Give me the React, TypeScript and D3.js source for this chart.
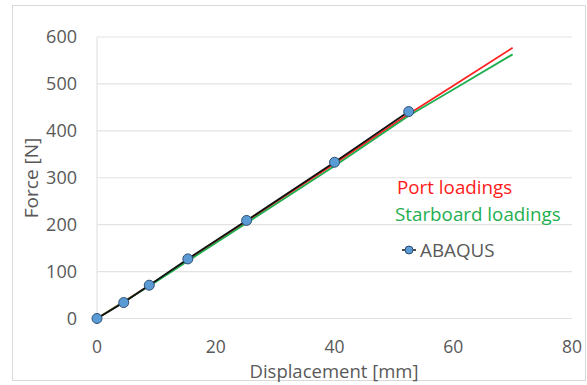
import React from "react";
import * as d3 from "d3";

const xTicks = [0, 20, 40, 60, 80];
const yTicks = [0, 100, 200, 300, 400, 500, 600];

const portX = [0, 10, 20, 30, 40, 52.5, 60, 70];
const portY = [0, 80, 163, 247, 330, 436, 496, 577];
const starX = [0, 10, 20, 30, 40, 52.5, 60, 70];
const starY = [0, 79, 161, 243, 325, 432, 488, 563];
const abaqusX = [0, 4.5, 8.8, 15.3, 25.2, 40, 52.5];
const abaqusY = [0, 34, 71, 127, 209, 333, 441];

const W = 587;
const H = 385;

export default function App() {
  const x = d3.scaleLinear().domain([0, 80]).range([97, 572]);
  const y = d3.scaleLinear().domain([0, 600]).range([318.5, 37]);
  const line = d3
    .line<[number, number]>()
    .x((d) => x(d[0]))
    .y((d) => y(d[1]));
  const zip = (a: number[], b: number[]) => a.map((v, i) => [v, b[i]] as [number, number]);
  const font = "'Open Sans', sans-serif";
  const grey = "#595959";
  return (
    <svg width={W} height={H} style={{ position: "absolute", left: 0, top: 0, background: "#fff" }}>
      <rect x={12.5} y={5.5} width={573} height={375} fill="#fff" stroke="#d9d9d9" />
      {yTicks.map((t) => (
        <line key={t} x1={97} x2={572} y1={y(t)} y2={y(t)} stroke="#e3e3e3" strokeWidth={1.2} />
      ))}
      <line x1={97} x2={97} y1={y(600)} y2={y(0)} stroke="#e3e3e3" strokeWidth={1.2} />
      {yTicks.map((t) => (
        <text key={t} x={77} y={y(t)} dy="0.35em" textAnchor="end" fontFamily={font} fontSize={18} fill={grey}>
          {t}
        </text>
      ))}
      {xTicks.map((t) => (
        <text key={t} x={x(t)} y={347} dy="0.35em" textAnchor="middle" fontFamily={font} fontSize={17.5} fill={grey}>
          {t}
        </text>
      ))}
      <text x={334} y={371.5} dy="0.35em" textAnchor="middle" fontFamily={font} fontSize={18.5} fill={grey}>
        Displacement [mm]
      </text>
      <text
        transform={`translate(31,178) rotate(-90)`}
        dy="0.35em"
        textAnchor="middle"
        fontFamily={font}
        fontSize={19}
        fill={grey}
      >
        Force [N]
      </text>
      <path d={line(zip(portX, portY)) || ""} fill="none" stroke="#ff2020" strokeWidth={1.8} />
      <path d={line(zip(starX, starY)) || ""} fill="none" stroke="#1fae50" strokeWidth={1.8} />
      <path d={line(zip(abaqusX, abaqusY)) || ""} fill="none" stroke="#111" strokeWidth={1.8} />
      {abaqusX.map((v, i) => (
        <circle key={i} cx={x(v)} cy={y(abaqusY[i])} r={5} fill="#5b9bd5" stroke="#2e4f73" strokeWidth={1} />
      ))}
      <text x={397} y={187} dy="0.35em" fontFamily={font} fontSize={18.8} fill="#ff1a1a">
        Port loadings
      </text>
      <text x={395} y={214} dy="0.35em" fontFamily={font} fontSize={18.8} fill="#1fae50">
        Starboard loadings
      </text>
      <line x1={402} x2={416} y1={250} y2={250} stroke="#111" strokeWidth={1.5} />
      <circle cx={409} cy={250} r={4} fill="#5b9bd5" stroke="#2e4f73" strokeWidth={1} />
      <text x={420} y={250} dy="0.35em" fontFamily={font} fontSize={18.8} fill={grey}>
        ABAQUS
      </text>
    </svg>
  );
}
